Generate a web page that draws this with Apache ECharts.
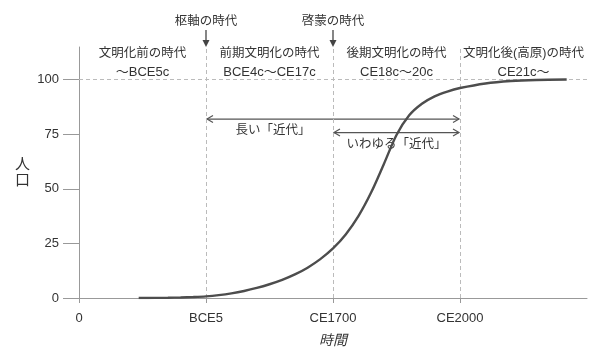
<!DOCTYPE html>
<html><head><meta charset="utf-8">
<script src="https://cdn.jsdelivr.net/npm/echarts@6/dist/echarts.min.js"></script>
<style>html,body{margin:0;padding:0;background:#fff}#c{width:600px;height:353px}</style>
</head><body><div id="c"></div>
<script>
// ---- data ----
const xTickValues = [0, 1, 2, 3];
const xTickLabels = ['0', 'BCE5', 'CE1700', 'CE2000'];
const yTickValues = [0, 25, 50, 75, 100];
const curveX = [0.47, 0.6, 0.7, 0.8, 0.9, 1.0, 1.1, 1.2, 1.3, 1.4, 1.5, 1.6, 1.7, 1.8, 1.9, 2.0, 2.1, 2.2, 2.3, 2.4, 2.5, 2.6, 2.7, 2.8, 2.9, 3.0, 3.2, 3.4, 3.6, 3.84];
const curveY = [0, 0.05, 0.12, 0.25, 0.45, 0.75, 1.3, 2.1, 3.2, 4.6, 6.3, 8.3, 10.8, 13.9, 17.8, 22.7, 29.1, 37.5, 48.3, 61.3, 74.7, 83.7, 89.0, 92.4, 94.6, 96.2, 98.3, 99.4, 99.9, 100.1];
const boundaryX = [1, 2, 3];
const plateauY = 100;
const eraCenters = [0.5, 1.5, 2.5, 3.5];
const eraNames = ['文明化前の時代', '前期文明化の時代', '後期文明化の時代', '文明化後(高原)の時代'];
const eraSpans = ['〜BCE5c', 'BCE4c〜CE17c', 'CE18c〜20c', 'CE21c〜'];
const markerX = [1, 2];
const markerNames = ['枢軸の時代', '啓蒙の時代'];
const spanFrom = [1, 2];
const spanTo = [3, 3];
const spanY = [82, 75.8];
const spanNames = ['長い「近代」', 'いわゆる「近代」'];

const FONT = '"Liberation Sans", "Noto Sans CJK JP", sans-serif';
const TXT = '#333';

const chart = echarts.init(document.getElementById('c'), null, {renderer: 'canvas'});
const Y_MAX = 115, X_MAX = 4;

chart.setOption({
  animation: false,
  grid: {left: 79, right: 13, top: 47, bottom: 55, containLabel: false},
  xAxis: {
    type: 'value', min: 0, max: X_MAX, interval: 1,
    name: '時間', nameLocation: 'middle', nameGap: 36,
    nameTextStyle: {fontFamily: FONT, fontSize: 14, fontStyle: 'italic', color: TXT},
    axisLine: {lineStyle: {color: '#999', width: 1}},
    axisTick: {length: 5, customValues: xTickValues, lineStyle: {color: '#999'}},
    axisLabel: {customValues: xTickValues, margin: 14, fontFamily: FONT, fontSize: 13, color: TXT,
      formatter: v => xTickLabels[xTickValues.indexOf(v)] ?? ''},
    splitLine: {show: false}
  },
  yAxis: {
    type: 'value', min: 0, max: Y_MAX, interval: 25,
    name: '人\n口', nameLocation: 'middle', nameRotate: 0, nameGap: 49,
    nameTextStyle: {fontFamily: FONT, fontSize: 15, color: TXT, lineHeight: 16},
    axisLine: {show: true, lineStyle: {color: '#999', width: 1}},
    axisTick: {show: true, length: 16, customValues: yTickValues, lineStyle: {color: '#999'}},
    axisLabel: {customValues: yTickValues, margin: 20, fontFamily: FONT, fontSize: 13, color: TXT},
    splitLine: {show: false}
  },
  series: [{
    type: 'line',
    data: curveX.map((x, i) => [x, curveY[i]]),
    smooth: 0.3,
    symbol: 'none',
    lineStyle: {color: '#4d4d4d', width: 2.4},
    z: 5,
    markLine: {
      silent: true, symbol: ['none', 'none'], label: {show: false},
      lineStyle: {color: '#bbb', type: [4, 3], width: 1},
      data: [
        ...boundaryX.map(x => ({xAxis: x})),
        {yAxis: plateauY}
      ],
      z: 1
    }
  }]
});

// annotations positioned through the chart's scales
const P = (x, y) => chart.convertToPixel({gridIndex: 0}, [x, y]);
const topY = P(0, Y_MAX)[1];
const g = [];
const txt = (x, y, s, size, extra) => g.push(Object.assign({
  type: 'text', x, y, silent: true,
  style: {text: s, fill: TXT, font: `${size || 12.5}px ${FONT}`, align: 'center', verticalAlign: 'middle'}
}, extra || {}));

eraCenters.forEach((cx, i) => {
  const px = P(cx, 0)[0];
  txt(px, topY + 7, eraNames[i], 12.5);
  txt(px, topY + 25, eraSpans[i], 13);
});

markerX.forEach((mx, i) => {
  const px = P(mx, 0)[0];
  txt(px, topY - 25, markerNames[i], 12.5);
  g.push({type: 'line', silent: true, shape: {x1: px, y1: topY - 17, x2: px, y2: topY - 5},
    style: {stroke: '#444', lineWidth: 1.3}});
  g.push({type: 'polygon', silent: true, shape: {points: [[px - 3.5, topY - 7], [px + 3.5, topY - 7], [px, topY]]},
    style: {fill: '#444'}});
});

spanFrom.forEach((fx, i) => {
  const a = P(fx, spanY[i]), b = P(spanTo[i], spanY[i]);
  const y = a[1];
  g.push({type: 'line', silent: true, shape: {x1: a[0] + 1, y1: y, x2: b[0] - 1, y2: y},
    style: {stroke: '#555', lineWidth: 1.2}});
  g.push({type: 'polyline', silent: true, shape: {points: [[a[0] + 7, y - 3.5], [a[0] + 1, y], [a[0] + 7, y + 3.5]]},
    style: {stroke: '#555', lineWidth: 1.2, fill: null}});
  g.push({type: 'polyline', silent: true, shape: {points: [[b[0] - 7, y - 3.5], [b[0] - 1, y], [b[0] - 7, y + 3.5]]},
    style: {stroke: '#555', lineWidth: 1.2, fill: null}});
  txt((a[0] + b[0]) / 2 + (i === 0 ? -60 : 0), y + 12, spanNames[i], 12.5);
});

chart.setOption({graphic: g});
</script></body></html>
